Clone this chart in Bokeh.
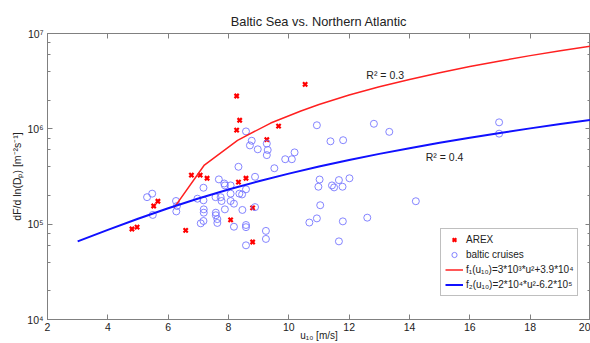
from bokeh.plotting import figure
from bokeh.models import (LogAxis, LinearAxis, Label, Legend, LegendItem,
                          CustomJSTickFormatter, FixedTicker, LogTicker)
from bokeh.embed import file_html
from bokeh.resources import INLINE

# ---------------- data ----------------
arex_u = [4.80, 4.97, 5.52, 5.66, 6.58, 6.77, 7.06, 7.29, 8.07, 8.33, 8.58, 8.80, 8.80,
          8.27, 8.37, 8.27, 9.27, 9.66, 10.54]
arex_v = [8.9e4, 9.3e4, 1.55e5, 1.74e5, 8.6e4, 3.27e5, 3.27e5, 3.03e5, 1.11e5, 2.76e5,
          3.03e5, 1.48e5, 6.5e4, 2.21e6, 1.23e6, 9.7e5, 7.7e5, 1.07e6, 2.93e6]

baltic_u = [5.30, 5.47, 5.49, 6.26, 6.29, 6.27, 6.97, 7.17, 7.17, 7.18, 7.18, 7.08, 7.17,
            7.57, 7.58, 7.58, 7.63, 7.63, 7.68, 7.74, 7.77, 7.86, 7.88, 7.88, 8.07, 8.07,
            8.07, 8.18, 8.18, 8.33, 8.36, 8.45, 8.46, 8.58, 8.58, 8.58, 8.58, 8.88, 8.88,
            9.24, 9.24, 9.52, 8.58, 8.77, 8.71, 8.97, 9.27, 9.30, 9.27, 9.88, 10.10, 10.19,
            10.93, 11.38, 11.80, 12.82, 13.33, 16.97, 16.97, 11.02, 10.98, 11.66, 12.01,
            11.43, 11.50, 11.78, 11.04, 10.93, 10.68, 11.79, 12.60, 11.66, 14.21]
baltic_v = [1.92e5, 2.09e5, 1.25e5, 1.75e5, 1.55e5, 1.36e5, 1.85e5, 2.41e5, 1.78e5, 1.43e5,
            1.32e5, 1.02e5, 1.08e5, 1.92e5, 1.32e5, 1.24e5, 1.13e5, 1.03e5, 2.95e5, 1.92e5,
            1.75e5, 2.67e5, 2.55e5, 1.43e5, 2.55e5, 2.09e5, 1.75e5, 1.64e5, 9.4e4, 4.0e5,
            2.09e5, 2.05e5, 1.41e5, 2.32e5, 9.8e4, 9.3e4, 6.0e4, 3.14e5, 1.51e5, 8.5e4,
            7.0e4, 3.86e5, 9.4e5, 7.5e5, 6.7e5, 6.1e5, 7.0e5, 6.0e5, 5.3e5, 4.8e5, 4.8e5,
            5.66e5, 1.09e6, 7.4e5, 7.6e5, 1.13e6, 9.3e5, 1.17e6, 8.9e5, 2.94e5, 2.47e5,
            2.9e5, 3.03e5, 2.55e5, 2.43e5, 2.47e5, 1.58e5, 1.15e5, 1.04e5, 1.07e5, 1.17e5,
            6.6e4, 1.74e5]

# red fit curve (legend: f1)
f1_u = [6.2, 7.2, 8.3, 9.4, 10.4, 11, 12, 13, 14, 15, 16, 17, 18, 19, 20]
f1_v = [1.49e5, 4.17e5, 7.58e5, 1.15e6, 1.54e6, 1.80e6, 2.26e6, 2.76e6, 3.30e6,
        3.88e6, 4.50e6, 5.16e6, 5.86e6, 6.60e6, 7.38e6]
# blue fit curve (legend: f2)
f2_u = [3, 4, 5, 6, 7, 8, 9, 10, 11, 12, 13, 14, 15, 16, 17, 18, 19, 20]
f2_v = [6.6e4, 8.7e4, 1.14e5, 1.47e5, 1.86e5, 2.31e5, 2.82e5, 3.39e5, 4.02e5, 4.71e5,
        5.46e5, 6.27e5, 7.14e5, 8.07e5, 9.06e5, 1.011e6, 1.122e6, 1.239e6]

x_ticks = [2, 4, 6, 8, 10, 12, 14, 16, 18, 20]
y_ticks = [1e4, 1e5, 1e6, 1e7]

title_text = "Baltic Sea vs. Northern Atlantic"
x_label = "u\u2081\u2080 [m/s]"
y_label = "dF/d ln(D\u209a) [m\u207b\u00b2s\u207b\u00b9]"
legend_labels = ["AREX", "baltic cruises",
                 "f\u2081(u\u2081\u2080)=3*10\u00b3*u\u00b2+3.9*10\u2074",
                 "f\u2082(u\u2081\u2080)=2*10\u2074*u\u00b2-6.2*10\u2075"]
r2_labels = ["R\u00b2 = 0.3", "R\u00b2 = 0.4"]

FONT = "Liberation Sans"
AX = "#808080"
TXT = "#222222"

p = figure(width=590, height=343, x_range=(2, 20), y_range=(1e4, 1e7),
           y_axis_type="log", output_backend="svg", toolbar_location=None,
           min_border_left=47, min_border_top=33, min_border_right=0,
           min_border_bottom=23)
p.title.text = title_text
p.title.text_font = FONT
p.title.text_font_size = "12.8px"
p.title.text_font_style = "normal"
p.title.align = "center"
p.title.text_color = TXT
p.grid.visible = False
p.outline_line_color = AX

sup_js = """
const e = Math.round(Math.log10(tick));
const s = {'0':'\u2070','1':'\u00b9','2':'\u00b2','3':'\u00b3','4':'\u2074','5':'\u2075','6':'\u2076','7':'\u2077','8':'\u2078','9':'\u2079','-':'\u207b'};
return '10' + String(e).split('').map(c => s[c]).join('');
"""

def style(ax, labels=True):
    ax.axis_line_color = AX
    ax.major_tick_line_color = AX
    ax.minor_tick_line_color = AX
    ax.major_tick_in = 5
    ax.major_tick_out = 0
    ax.minor_tick_in = 3
    ax.minor_tick_out = 0
    ax.major_label_text_font = FONT
    ax.major_label_text_font_size = "10.5px" if labels else "1px"
    ax.major_label_text_color = TXT
    ax.major_label_standoff = 4 if labels else 0
    if not labels:
        ax.major_label_text_alpha = 0

# bottom axis
xa = p.xaxis[0]
xa.ticker = FixedTicker(ticks=x_ticks)
style(xa)
xa.minor_tick_line_color = None
xa.major_label_standoff = 3
xa.axis_label = x_label
xa.axis_label_text_font = FONT
xa.axis_label_text_font_size = "10px"
xa.axis_label_text_font_style = "normal"
xa.axis_label_text_color = TXT
xa.axis_label_standoff = -4

# left axis
ya = p.yaxis[0]
ya.ticker = LogTicker(desired_num_ticks=4)
ya.formatter = CustomJSTickFormatter(code=sup_js)
style(ya)
ya.axis_label = y_label
ya.axis_label_text_font = FONT
ya.axis_label_text_font_size = "10.5px"
ya.axis_label_text_font_style = "normal"
ya.axis_label_text_color = TXT
ya.axis_label_standoff = 1

# top and right axes (ticks only)
top = LinearAxis(ticker=FixedTicker(ticks=x_ticks))
style(top, labels=False)
top.minor_tick_line_color = None
p.add_layout(top, "above")
right = LogAxis(ticker=LogTicker(desired_num_ticks=4))
style(right, labels=False)
p.add_layout(right, "right")

r_arex = p.scatter(arex_u, arex_v, marker="x", size=6, line_width=2.2, color="#ff0000")
r_balt = p.scatter(baltic_u, baltic_v, marker="circle", size=7, line_color="#7070ff",
                   line_width=1, fill_color=None, line_alpha=0.85)
r_f1 = p.line(f1_u, f1_v, line_color="#ff2020", line_width=1.5)
r_f2 = p.line(f2_u, f2_v, line_color="#1010ff", line_width=2)

leg = Legend(items=[LegendItem(label=legend_labels[0], renderers=[r_arex]),
                    LegendItem(label=legend_labels[1], renderers=[r_balt]),
                    LegendItem(label=legend_labels[2], renderers=[r_f1]),
                    LegendItem(label=legend_labels[3], renderers=[r_f2])],
             location=(393, 23), label_text_font=FONT, label_text_font_size="10px",
             label_text_color=TXT, border_line_color=AX, padding=4, spacing=2,
             glyph_width=18, glyph_height=13, label_standoff=3, margin=0,
             label_height=13)
p.add_layout(leg, "center")

p.add_layout(Label(x=12.57, y=3.65e6, text=r2_labels[0], text_font=FONT,
                   text_font_size="10.5px", text_baseline="middle", text_color=TXT))
p.add_layout(Label(x=14.54, y=5.1e5, text=r2_labels[1], text_font=FONT,
                   text_font_size="10.5px", text_baseline="middle", text_color=TXT))

open("out.html", "w").write(file_html(p, INLINE))
